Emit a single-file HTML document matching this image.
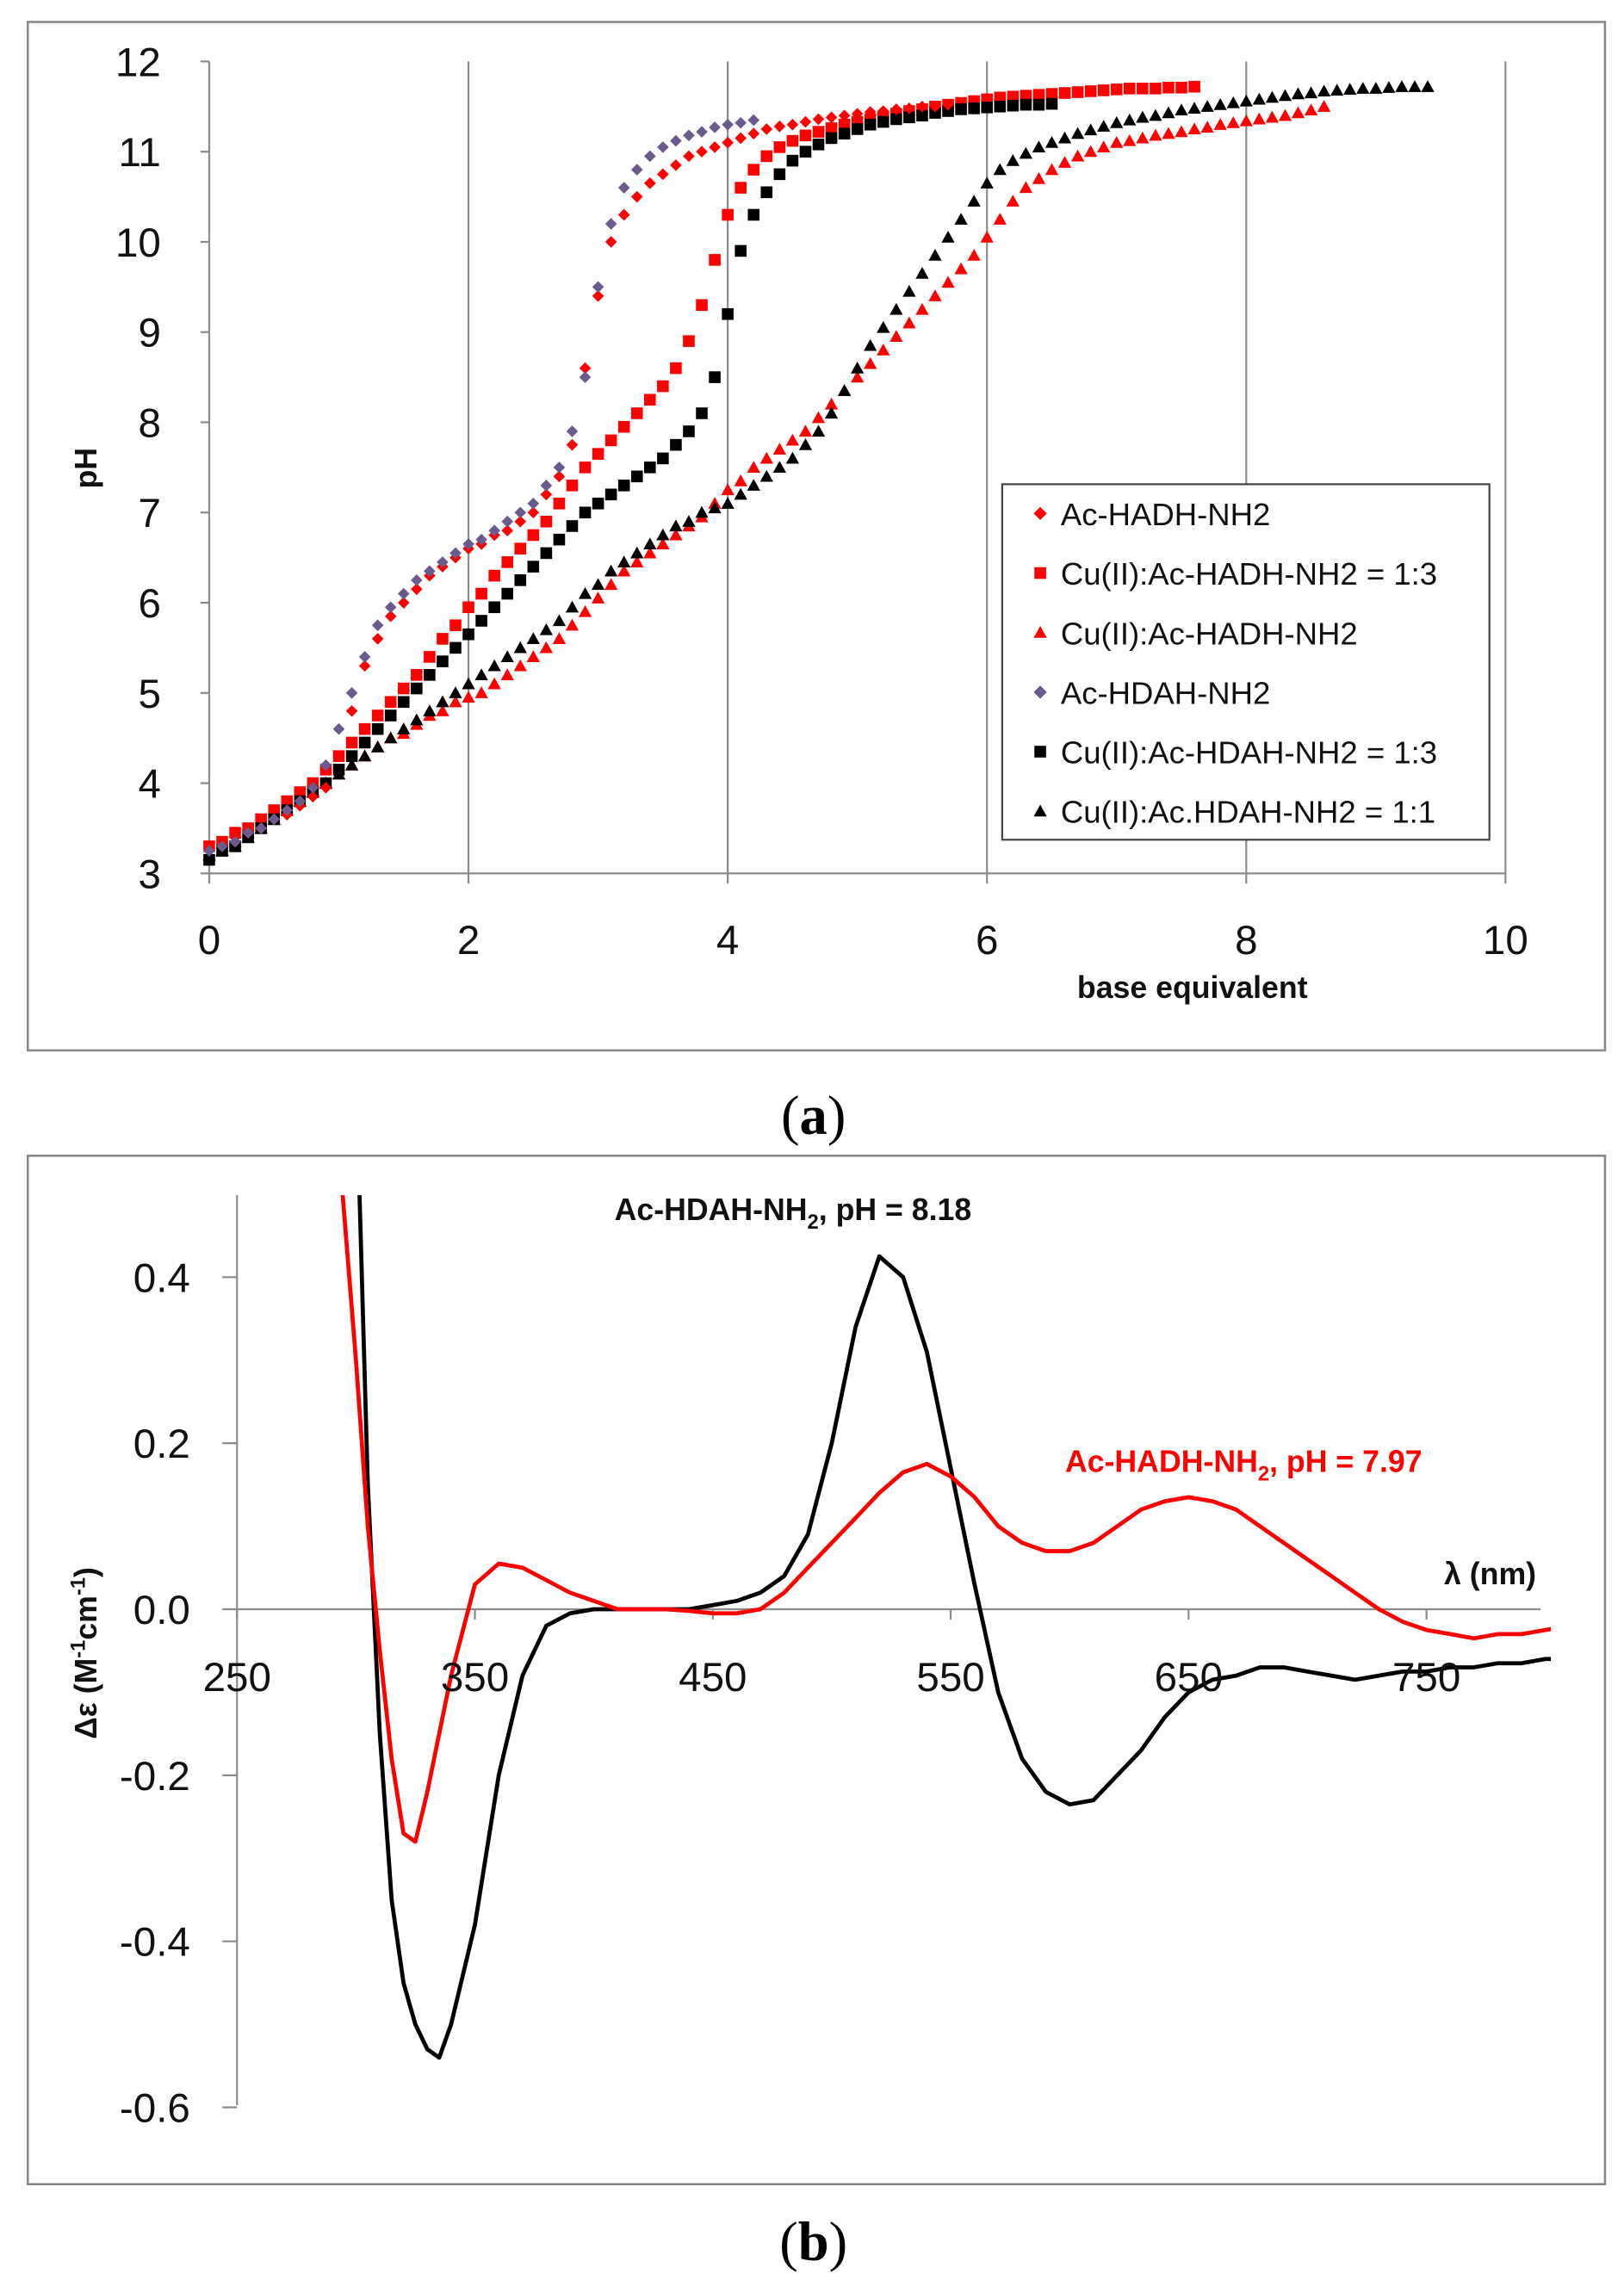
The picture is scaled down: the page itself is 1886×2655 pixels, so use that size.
<!DOCTYPE html>
<html><head><meta charset="utf-8"><style>
html,body{margin:0;padding:0;background:#fff;}
svg{display:block;}
text{font-family:"Liberation Sans",sans-serif;}
</style></head><body>
<svg id="fig" width="1886" height="2655" viewBox="0 0 1110 1562.6" preserveAspectRatio="none" xmlns="http://www.w3.org/2000/svg">
<rect x="19" y="15" width="1078" height="703" fill="#fff" stroke="#888" stroke-width="1.5"/>
<rect x="19" y="790" width="1078" height="703" fill="#fff" stroke="#888" stroke-width="1.5"/>
<g id="ga"></g>
<g id="gb"></g>
<text x="556" y="775" text-anchor="middle" style="font-family:'Liberation Serif',serif;font-size:38px">(<tspan font-weight="bold">a</tspan>)</text>
<text x="556" y="1545" text-anchor="middle" style="font-family:'Liberation Serif',serif;font-size:38px">(<tspan font-weight="bold">b</tspan>)</text>
</svg>
<script>
// ---- Panel A data ----
const aXStep = 0.1;
const aTicksX = [0,2,4,6,8,10];
const aTicksY = [3,4,5,6,7,8,9,10,11,12];
const s1Name = "Ac-HADH-NH2";
const s1 = [3.3,3.35,3.4,3.45,3.5,3.6,3.65,3.75,3.85,3.95,4.3,4.8,5.3,5.6,5.85,6.0,6.15,6.3,6.4,6.5,6.6,6.65,6.75,6.8,6.9,7.0,7.2,7.4,7.75,8.6,9.4,10.0,10.3,10.5,10.65,10.75,10.85,10.95,11.0,11.05,11.1,11.15,11.2,11.25,11.28,11.3,11.33,11.36,11.38,11.4,11.42,11.44,11.45,11.47,11.48,11.5,11.5,11.52];
const s2Name = "Cu(II):Ac-HADH-NH2 = 1:3";
const s2 = [3.3,3.35,3.45,3.5,3.6,3.7,3.8,3.9,4.0,4.15,4.3,4.45,4.6,4.75,4.9,5.05,5.2,5.4,5.6,5.75,5.95,6.1,6.3,6.45,6.6,6.75,6.9,7.1,7.3,7.5,7.65,7.8,7.95,8.1,8.25,8.4,8.6,8.9,9.3,9.8,10.3,10.6,10.8,10.95,11.05,11.12,11.18,11.22,11.26,11.3,11.33,11.36,11.39,11.42,11.45,11.47,11.5,11.52,11.54,11.56,11.58,11.6,11.61,11.62,11.63,11.64,11.65,11.66,11.67,11.68,11.69,11.7,11.7,11.7,11.71,11.71,11.72];
const s3Name = "Cu(II):Ac-HADH-NH2";
const s3 = [3.2,3.25,3.35,3.45,3.5,3.6,3.7,3.8,3.9,4.0,4.1,4.2,4.3,4.4,4.5,4.55,4.65,4.75,4.8,4.9,4.95,5.0,5.1,5.2,5.3,5.4,5.5,5.6,5.75,5.9,6.05,6.2,6.35,6.45,6.55,6.65,6.75,6.85,6.95,7.1,7.25,7.35,7.5,7.6,7.7,7.8,7.9,8.05,8.2,8.35,8.5,8.65,8.8,8.95,9.1,9.25,9.4,9.55,9.7,9.85,10.05,10.25,10.45,10.6,10.7,10.8,10.88,10.95,11.0,11.05,11.1,11.12,11.15,11.18,11.2,11.22,11.25,11.27,11.3,11.32,11.34,11.36,11.38,11.4,11.43,11.46,11.5];
const s4Name = "Ac-HDAH-NH2";
const s4 = [3.25,3.3,3.35,3.45,3.5,3.6,3.7,3.8,3.95,4.2,4.6,5.0,5.4,5.75,5.95,6.1,6.25,6.35,6.45,6.55,6.65,6.7,6.8,6.9,7.0,7.1,7.3,7.5,7.9,8.5,9.5,10.2,10.6,10.8,10.95,11.05,11.12,11.18,11.22,11.27,11.3,11.32,11.35];
const s5Name = "Cu(II):Ac-HDAH-NH2 = 1:3";
const s5 = [3.15,3.25,3.3,3.4,3.5,3.6,3.7,3.8,3.9,4.0,4.15,4.3,4.45,4.6,4.75,4.9,5.05,5.2,5.35,5.5,5.65,5.8,5.95,6.1,6.25,6.4,6.55,6.7,6.85,7.0,7.1,7.2,7.3,7.4,7.5,7.6,7.75,7.9,8.1,8.5,9.2,9.9,10.3,10.55,10.75,10.9,11.0,11.08,11.15,11.2,11.25,11.3,11.33,11.36,11.38,11.4,11.43,11.45,11.47,11.48,11.49,11.5,11.51,11.52,11.52,11.53];
const s6Name = "Cu(II):Ac.HDAH-NH2 = 1:1";
const s6 = [3.2,3.25,3.3,3.4,3.5,3.6,3.7,3.8,3.9,4.0,4.1,4.2,4.3,4.4,4.5,4.6,4.7,4.8,4.9,5.0,5.1,5.2,5.3,5.4,5.5,5.6,5.7,5.8,5.95,6.1,6.2,6.35,6.45,6.55,6.65,6.75,6.85,6.9,7.0,7.05,7.1,7.2,7.3,7.4,7.5,7.6,7.75,7.9,8.1,8.35,8.6,8.85,9.05,9.25,9.45,9.65,9.85,10.05,10.25,10.45,10.65,10.8,10.9,10.98,11.05,11.1,11.15,11.2,11.24,11.28,11.32,11.35,11.38,11.4,11.43,11.46,11.48,11.5,11.52,11.54,11.56,11.58,11.6,11.62,11.64,11.65,11.67,11.68,11.69,11.7,11.7,11.71,11.72,11.72,11.72];

// ---- Panel B data ----
const bTicksX = [250,350,450,550,650,750];
const bTicksY = [0.4,0.2,0.0,-0.2,-0.4,-0.6];
const bTickLabelsY = ["0.4","0.2","0.0","-0.2","-0.4","-0.6"];
const redWl  = [293,300,305,310,315,320,325,330,340,350,360,370,380,390,400,410,420,430,440,450,460,470,480,490,500,510,520,530,540,550,560,570,580,590,600,610,620,630,640,650,660,670,680,690,700,710,720,730,740,750,760,770,780,790,800,810];
const redVal = [0.55,0.3,0.1,-0.05,-0.18,-0.27,-0.28,-0.22,-0.08,0.03,0.055,0.05,0.035,0.02,0.01,0.0,0.0,0.0,-0.002,-0.005,-0.005,0.0,0.02,0.05,0.08,0.11,0.14,0.165,0.175,0.16,0.135,0.1,0.08,0.07,0.07,0.08,0.1,0.12,0.13,0.135,0.13,0.12,0.1,0.08,0.06,0.04,0.02,0.0,-0.015,-0.025,-0.03,-0.035,-0.03,-0.03,-0.025,-0.02];
const blackWl  = [301,305,310,315,320,325,330,335,340,350,360,370,380,390,400,410,420,430,440,450,460,470,480,490,500,510,520,530,540,550,560,570,580,590,600,610,620,630,640,650,660,670,680,690,700,710,720,730,740,750,760,770,780,790,800,810];
const blackVal = [0.55,0.15,-0.15,-0.35,-0.45,-0.5,-0.53,-0.54,-0.5,-0.38,-0.2,-0.08,-0.02,-0.005,0.0,0.0,0.0,0.0,0.0,0.005,0.01,0.02,0.04,0.09,0.2,0.34,0.425,0.4,0.31,0.17,0.03,-0.1,-0.18,-0.22,-0.235,-0.23,-0.2,-0.17,-0.13,-0.1,-0.085,-0.08,-0.07,-0.07,-0.075,-0.08,-0.085,-0.08,-0.075,-0.075,-0.07,-0.07,-0.065,-0.065,-0.06,-0.06];

const NS = "http://www.w3.org/2000/svg";
function mk(parent, tag, attrs, txt){ const e=document.createElementNS(NS,tag); for(const k in attrs) e.setAttribute(k,attrs[k]); if(txt!==undefined) e.textContent=txt; parent.appendChild(e); return e; }

// Panel A axes
const ax = v => 143 + v*(1029-143)/10;
const ay = v => 597 - (v-3)*(597-42)/9;
const ga = document.getElementById('ga');
aTicksX.forEach(t=>{
  if(t>0){ const g=mk(ga,'line',{x1:ax(t),x2:ax(t),y1:42,y2:597,stroke:'#8c8c8c','stroke-width':1.3});
    
     }
  const tk=mk(ga,'line',{x1:ax(t),x2:ax(t),y1:597,y2:604,stroke:'#8c8c8c','stroke-width':1.3});
  
  
  const l=mk(ga,'text',{x:ax(t),y:652,'text-anchor':'middle','font-size':28,fill:'#111'},String(t));
  
  
});
aTicksY.forEach(t=>{
  const tk=mk(ga,'line',{x1:137,x2:143,y1:ay(t),y2:ay(t),stroke:'#8c8c8c','stroke-width':1.3});
  
  
  const l=mk(ga,'text',{x:110,y:ay(t)+10,'text-anchor':'end','font-size':28,fill:'#111'},String(t));
  
  
});
let axl=mk(ga,'line',{x1:143,x2:143,y1:42,y2:597,stroke:'#8c8c8c','stroke-width':1.3});


axl=mk(ga,'line',{x1:143,x2:1029,y1:597,y2:597,stroke:'#8c8c8c','stroke-width':1.3});


let tt=mk(ga,'text',{x:815,y:682,'text-anchor':'middle','font-size':21,'font-weight':'bold',fill:'#111'},'base equivalent');


tt=mk(ga,'text',{x:0,y:0,'text-anchor':'middle','font-size':21,'font-weight':'bold',fill:'#111',transform:'translate(66,320) rotate(-90)'},'pH');



function marker(parent, shape, color, cx, cy, s){
  if(shape==='diamond') return mk(parent,'path',{d:`M${cx} ${cy-s}L${cx+s} ${cy}L${cx} ${cy+s}L${cx-s} ${cy}Z`,fill:color});
  if(shape==='square') return mk(parent,'rect',{x:cx-s,y:cy-s,width:2*s,height:2*s,fill:color});
  return mk(parent,'path',{d:`M${cx} ${cy-s}L${cx+s} ${cy+s*0.8}L${cx-s} ${cy+s*0.8}Z`,fill:color});
}
const series = [
  {name:s3Name,vals:s3,shape:'tri',color:'#ff0000',size:4.5,key:'cu-hadh-1-1'},
  {name:s6Name,vals:s6,shape:'tri',color:'#000000',size:4.5,key:'cu-hdah-1-1'},
  {name:s2Name,vals:s2,shape:'square',color:'#ff0000',size:4,key:'cu-hadh-1-3'},
  {name:s5Name,vals:s5,shape:'square',color:'#000000',size:4,key:'cu-hdah-1-3'},
  {name:s1Name,vals:s1,shape:'diamond',color:'#ff0000',size:4,key:'ac-hadh'},
  {name:s4Name,vals:s4,shape:'diamond',color:'#6b5b8c',size:4,key:'ac-hdah'}
];
series.forEach(s=>{
  const g=mk(ga,'g',{});
  
  
  s.vals.forEach((v,i)=>{
    const m=marker(g,s.shape,s.color,ax(i*aXStep),ay(v),s.size);
    
    
  });
});
// legend
const lg=mk(ga,'g',{});


mk(lg,'rect',{x:685,y:331,width:333,height:243,fill:'#fff',stroke:'#444','stroke-width':1.3});
const legOrder=[[s1Name,'diamond','#ff0000'],[s2Name,'square','#ff0000'],[s3Name,'tri','#ff0000'],[s4Name,'diamond','#6b5b8c'],[s5Name,'square','#000'],[s6Name,'tri','#000']];
legOrder.forEach((e,i)=>{
  const y=351+i*40.7;
  const le=mk(lg,'g',{});
  
  
  marker(le,e[1],e[2],711,y,e[1]==='square'?4:4.5);
  mk(le,'text',{x:725,y:y+8,'font-size':21.5,fill:'#111'},e[0]);
});

// Panel B
const bx = v => 162 + (v-250)*(975-162)/500;
const by = v => 1100 - v*(1100-873)/0.4;
const gb=document.getElementById('gb');
mk(gb,'defs',{}).innerHTML='<clipPath id="cb"><rect x="150" y="817" width="910" height="680"/></clipPath>';
bTicksY.forEach((t,i)=>{
  const tk=mk(gb,'line',{x1:152,x2:162,y1:by(t),y2:by(t),stroke:'#8c8c8c','stroke-width':1.3});
  
  
  const l=mk(gb,'text',{x:130,y:by(t)+10,'text-anchor':'end','font-size':28,fill:'#111'},bTickLabelsY[i]);
  
  
});
bTicksX.forEach(t=>{
  const tk=mk(gb,'line',{x1:bx(t),x2:bx(t),y1:1100,y2:1107,stroke:'#8c8c8c','stroke-width':1.3});
  
  
});
axl=mk(gb,'line',{x1:162,x2:162,y1:817,y2:1439,stroke:'#8c8c8c','stroke-width':1.3});


axl=mk(gb,'line',{x1:162,x2:1053,y1:1100,y2:1100,stroke:'#8c8c8c','stroke-width':1.3});


function linePath(xs,ys){ return xs.map((x,i)=>(i?'L':'M')+bx(x).toFixed(1)+' '+by(ys[i]).toFixed(1)).join(''); }
let p=mk(gb,'path',{d:linePath(blackWl,blackVal),fill:'none',stroke:'#000','stroke-width':2.8,'stroke-linejoin':'round','clip-path':'url(#cb)'});


p=mk(gb,'path',{d:linePath(redWl,redVal),fill:'none',stroke:'#ff0000','stroke-width':2.8,'stroke-linejoin':'round','clip-path':'url(#cb)'});


bTicksX.forEach(t=>{
  const l=mk(gb,'text',{x:bx(t),y:1156,'text-anchor':'middle','font-size':28,fill:'#111'},String(t));
  
  
});
tt=mk(gb,'text',{x:1050,y:1083,'text-anchor':'end','font-size':21,'font-weight':'bold',fill:'#111'},'λ (nm)');


tt=mk(gb,'text',{x:0,y:0,'text-anchor':'middle','font-size':21,'font-weight':'bold',fill:'#111',transform:'translate(66,1130) rotate(-90)'});
tt.innerHTML='Δε (M<tspan font-size="14" dy="-8">-1</tspan><tspan dy="8">cm</tspan><tspan font-size="14" dy="-8">-1</tspan><tspan dy="8">)</tspan>';


tt=mk(gb,'text',{x:420,y:834,'font-size':21,'font-weight':'bold',fill:'#111'});
tt.innerHTML='Ac-HDAH-NH<tspan font-size="14" dy="6">2</tspan><tspan dy="-6">, pH = 8.18</tspan>';


tt=mk(gb,'text',{x:728,y:1006,'font-size':21,'font-weight':'bold',fill:'#ff0000'});
tt.innerHTML='Ac-HADH-NH<tspan font-size="14" dy="6">2</tspan><tspan dy="-6">, pH = 7.97</tspan>';


</script>
</body></html>
